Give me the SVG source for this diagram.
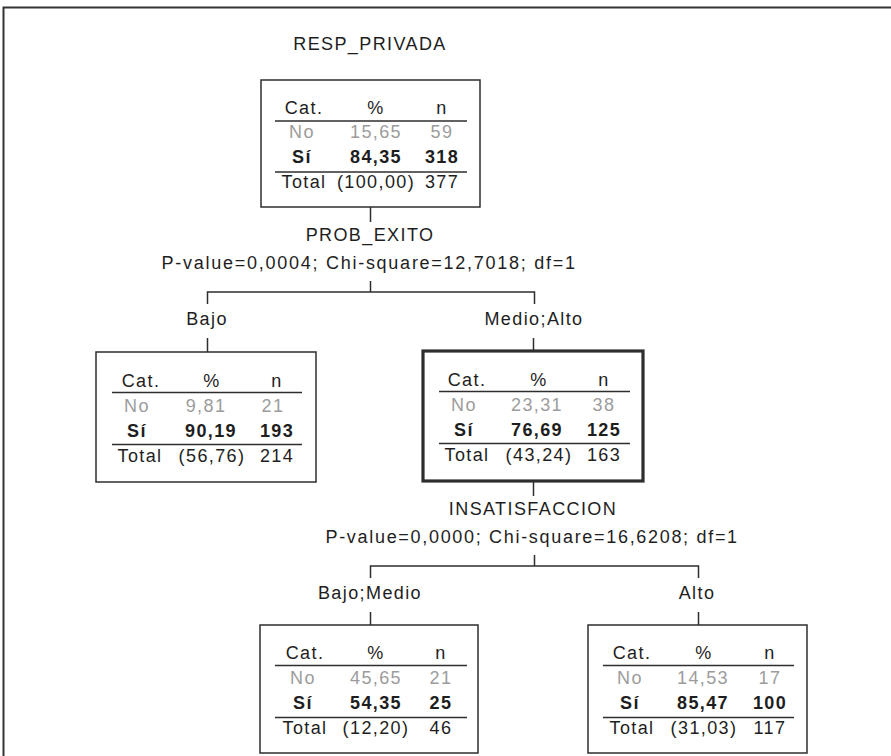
<svg xmlns="http://www.w3.org/2000/svg" width="891" height="756" viewBox="0 0 891 756">
<style>
  text { font-family: "Liberation Sans", Arial, sans-serif; font-size: 18px; letter-spacing: 1.4px; fill: #1e1e1e; text-anchor: middle; }
  .no { fill: #9c9c9c; }
  .b { font-weight: bold; }
  .box { fill: #ffffff; stroke: #2e2e2e; stroke-width: 1.5; }
  .sel { stroke-width: 3.2; }
  .rule { stroke: #2e2e2e; stroke-width: 1.5; }
  .con { fill: none; stroke: #2e2e2e; stroke-width: 1.5; }
</style>
<rect width="891" height="756" fill="#ffffff"/>
<path d="M3.5,756 V7.5 H891" fill="none" stroke="#333333" stroke-width="2"/>

<g id="connectors">
  <path class="con" d="M370.5,207 V222"/>
  <path class="con" d="M370.5,281 V292 M207.5,304 V292 H534.5 V304"/>
  <path class="con" d="M207.5,338 V352"/>
  <path class="con" d="M533.5,338 V351"/>
  <path class="con" d="M533.5,481 V496"/>
  <path class="con" d="M534.5,555 V566 M370.5,578 V566 H698.5 V578"/>
  <path class="con" d="M370.5,612 V625"/>
  <path class="con" d="M698.5,612 V625"/>
  <text x="370" y="241">PROB_EXITO</text>
  <text x="369" y="269" textLength="415" lengthAdjust="spacing">P-value=0,0004; Chi-square=12,7018; df=1</text>
  <text x="207" y="325">Bajo</text>
  <text x="534" y="325">Medio;Alto</text>
  <text x="533" y="515">INSATISFACCION</text>
  <text x="532" y="543" textLength="413" lengthAdjust="spacing">P-value=0,0000; Chi-square=16,6208; df=1</text>
  <text x="370" y="599">Bajo;Medio</text>
  <text x="697" y="599">Alto</text>
</g>

<g id="root">
  <text x="370" y="50">RESP_PRIVADA</text>
  <rect class="box" x="261" y="80" width="219" height="127"/>
  <line class="rule" x1="275" y1="121" x2="467" y2="121"/>
  <line class="rule" x1="275" y1="172" x2="467" y2="172"/>
  <text x="304" y="114">Cat.</text><text x="376" y="114">%</text><text x="442" y="114">n</text>
  <text class="no" x="302" y="138">No</text><text class="no" x="376" y="138">15,65</text><text class="no" x="442" y="138">59</text>
  <text class="b" x="302" y="163">Sí</text><text class="b" x="376" y="163">84,35</text><text class="b" x="442" y="163">318</text>
  <text x="304" y="188">Total</text><text x="376" y="188">(100,00)</text><text x="442" y="188">377</text>
</g>

<g id="node-bajo">
  <rect class="box" x="96" y="352" width="220" height="130"/>
  <line class="rule" x1="112" y1="392.5" x2="302" y2="392.5"/>
  <line class="rule" x1="112" y1="444.5" x2="302" y2="444.5"/>
  <text x="141" y="387">Cat.</text><text x="212" y="387">%</text><text x="277" y="387">n</text>
  <text class="no" x="137" y="412">No</text><text class="no" x="206" y="412">9,81</text><text class="no" x="273" y="412">21</text>
  <text class="b" x="137" y="437">Sí</text><text class="b" x="211" y="437">90,19</text><text class="b" x="277" y="437">193</text>
  <text x="140" y="462">Total</text><text x="212" y="462">(56,76)</text><text x="277" y="462">214</text>
</g>

<g id="node-medio-alto">
  <rect class="box sel" x="423" y="351" width="220" height="130"/>
  <line class="rule" x1="439" y1="391.5" x2="630" y2="391.5"/>
  <line class="rule" x1="439" y1="443.5" x2="630" y2="443.5"/>
  <text x="467" y="386">Cat.</text><text x="539" y="386">%</text><text x="604" y="386">n</text>
  <text class="no" x="464" y="411">No</text><text class="no" x="537" y="411">23,31</text><text class="no" x="604" y="411">38</text>
  <text class="b" x="464" y="436">Sí</text><text class="b" x="537" y="436">76,69</text><text class="b" x="604" y="436">125</text>
  <text x="467" y="461">Total</text><text x="539" y="461">(43,24)</text><text x="604" y="461">163</text>
</g>

<g id="node-bajo-medio">
  <rect class="box" x="260" y="625" width="218" height="128"/>
  <line class="rule" x1="275" y1="665.5" x2="467" y2="665.5"/>
  <line class="rule" x1="275" y1="717.5" x2="467" y2="717.5"/>
  <text x="305" y="659">Cat.</text><text x="376" y="659">%</text><text x="441" y="659">n</text>
  <text class="no" x="303" y="684">No</text><text class="no" x="376" y="684">45,65</text><text class="no" x="441" y="684">21</text>
  <text class="b" x="303" y="709">Sí</text><text class="b" x="376" y="709">54,35</text><text class="b" x="441" y="709">25</text>
  <text x="305" y="734">Total</text><text x="376" y="734">(12,20)</text><text x="441" y="734">46</text>
</g>

<g id="node-alto">
  <rect class="box" x="588" y="625" width="219" height="128"/>
  <line class="rule" x1="603" y1="665.5" x2="794" y2="665.5"/>
  <line class="rule" x1="603" y1="717.5" x2="794" y2="717.5"/>
  <text x="632" y="659">Cat.</text><text x="704" y="659">%</text><text x="770" y="659">n</text>
  <text class="no" x="630" y="684">No</text><text class="no" x="703" y="684">14,53</text><text class="no" x="770" y="684">17</text>
  <text class="b" x="630" y="709">Sí</text><text class="b" x="703" y="709">85,47</text><text class="b" x="770" y="709">100</text>
  <text x="632" y="734">Total</text><text x="704" y="734">(31,03)</text><text x="770" y="734">117</text>
</g>
</svg>
